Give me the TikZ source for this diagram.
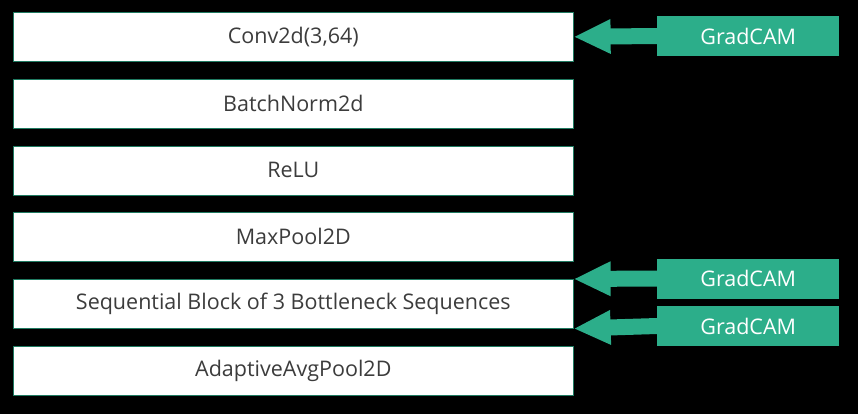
\documentclass[tikz,border=0pt]{standalone}
\usepackage{fontspec}
\setmainfont{Open Sans}
\usetikzlibrary{arrows.meta}
\definecolor{teal1}{RGB}{44,174,138}
\definecolor{txt}{RGB}{60,60,60}
\begin{document}
\begin{tikzpicture}[x=1bp,y=-1bp,
  layer/.style={draw=teal1!70!black, line width=0.6bp, fill=white, minimum width=560bp, minimum height=49bp, inner sep=0pt, text=txt, font=\fontsize{21.5bp}{24bp}\selectfont, anchor=north west},
  gbox/.style={fill=teal1, minimum width=182bp, minimum height=40bp, inner sep=0pt, text=white, font=\fontsize{21.5bp}{24bp}\selectfont, anchor=west},
  garrow/.style={draw=teal1, line width=16bp, -{Triangle[length=37bp,width=32bp]}}]
\useasboundingbox[fill=black] (0,0) rectangle (858,414);
\node[layer] (c1) at (13,12) {Conv2d(3,64)};
\node[layer] (c2) at (13,79) {BatchNorm2d};
\node[layer] (c3) at (13,145.5) {ReLU};
\node[layer] (c4) at (13,212) {MaxPool2D};
\node[layer] (c5) at (13,279) {Sequential Block of 3 Bottleneck Sequences};
\node[layer] (c6) at (13,346) {AdaptiveAvgPool2D};
\node[gbox] (g1) at (657,36) {GradCAM};
\node[gbox] (g2) at (657,278.5) {GradCAM};
\node[gbox] (g3) at (657,326) {GradCAM};
\draw[garrow] (g1.west) -- (c1.east);
\draw[garrow] (g2.west) -- (c5.north east);
\draw[garrow] (g3.west) -- (c5.south east);
\end{tikzpicture}
\end{document}
